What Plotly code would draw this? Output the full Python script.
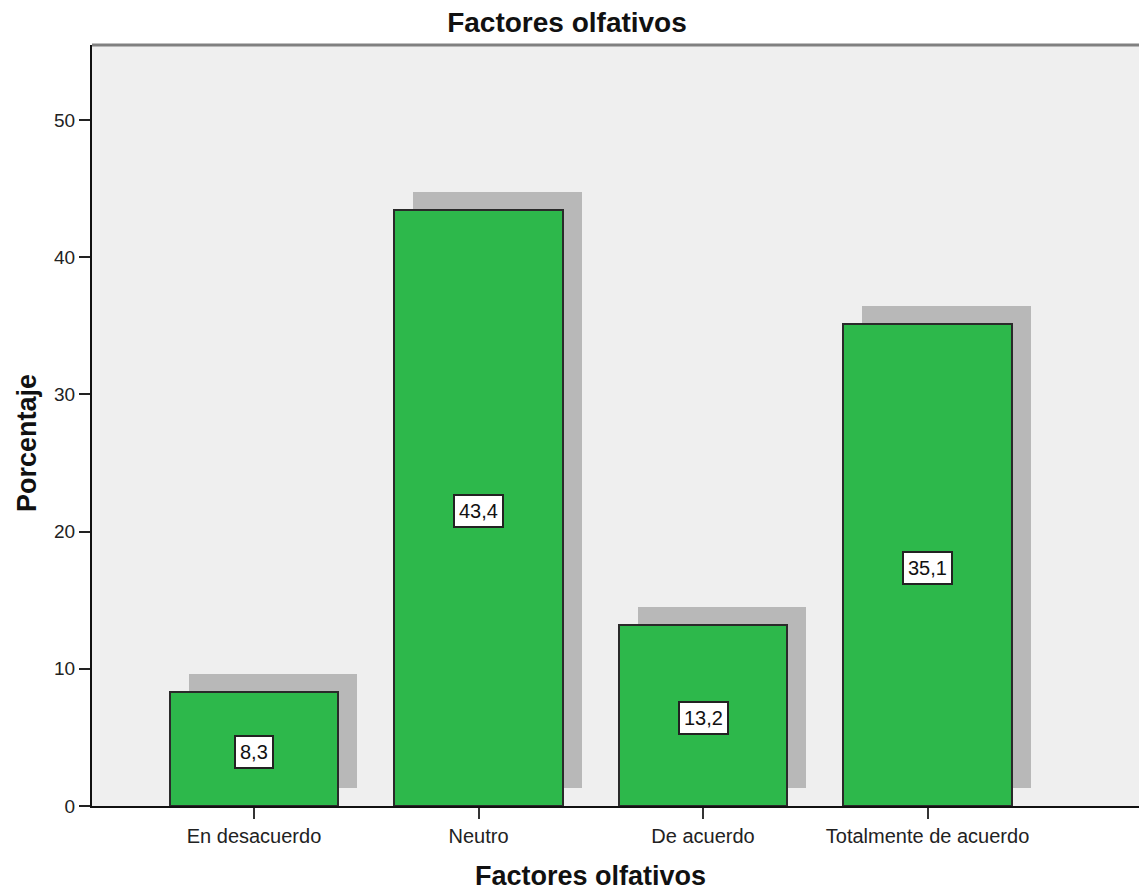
import plotly.graph_objects as go

# Survey responses: share of respondents per answer (percent)
categories = ["En desacuerdo", "Neutro", "De acuerdo", "Totalmente de acuerdo"]
percentages = [8.3, 43.4, 13.2, 35.1]
y_ticks = [0, 10, 20, 30, 40, 50]

GREEN = "#2db84b"
SHADOW = "#b8b8b8"
BG = "#efefef"
FONT = "Arial, Liberation Sans, sans-serif"

W, H = 1139, 893
M_L, M_R, M_T, M_B = 92, 0, 45, 87

# drop-shadow offset (in category units / value units)
SHIFT_X = 0.085
SHIFT_Y = 1.33
BAR_W = 0.75

xpos = list(range(len(categories)))

fig = go.Figure()

# shadow bars, offset up and right behind the main bars
fig.add_trace(go.Bar(
    x=[i + SHIFT_X for i in xpos],
    y=percentages,
    base=[SHIFT_Y] * len(percentages),
    width=BAR_W,
    marker=dict(color=SHADOW, line=dict(width=0)),
    hoverinfo="skip",
    showlegend=False,
))

# main bars
fig.add_trace(go.Bar(
    x=xpos,
    y=percentages,
    width=BAR_W,
    marker=dict(color=GREEN, line=dict(color="#2a2a2a", width=2)),
    showlegend=False,
))

# value labels in white boxes at the middle of each bar
for i, v in zip(xpos, percentages):
    fig.add_annotation(
        x=i, y=v / 2, xref="x", yref="y",
        text=f"{v:.1f}".replace(".", ","),
        showarrow=False,
        font=dict(family=FONT, size=20, color="#111111"),
        bgcolor="white",
        bordercolor="#222222",
        borderwidth=2,
        borderpad=4,
        yshift=-3,
    )

plot_w = W - M_L - M_R
plot_h = H - M_T - M_B

# axis titles
fig.add_annotation(
    x=(590 - M_L) / plot_w, y=-(876 - (H - M_B)) / plot_h,
    xref="paper", yref="paper",
    text="<b>Factores olfativos</b>", showarrow=False,
    font=dict(family=FONT, size=27, color="#111111"),
    xanchor="center", yanchor="middle",
)
fig.add_annotation(
    x=(27 - M_L) / plot_w, y=((H - M_B) - 443) / plot_h,
    xref="paper", yref="paper",
    text="<b>Porcentaje</b>", showarrow=False, textangle=-90,
    font=dict(family=FONT, size=27, color="#111111"),
    xanchor="center", yanchor="middle",
)

# grey frame line along the top of the plot area
fig.add_shape(
    type="line", xref="paper", yref="paper",
    x0=0, x1=1, y0=1, y1=1,
    line=dict(color="#808080", width=3),
)

fig.update_layout(
    width=W, height=H,
    margin=dict(l=M_L, r=M_R, t=M_T, b=M_B),
    paper_bgcolor="white",
    plot_bgcolor=BG,
    barmode="overlay",
    bargap=0,
    title=dict(
        text="<b>Factores olfativos</b>",
        x=567 / W, xref="container", xanchor="center",
        y=1 - 22 / H, yref="container", yanchor="middle",
        font=dict(family=FONT, size=28, color="#111111"),
    ),
    font=dict(family=FONT, color="#222222"),
)

fig.update_xaxes(
    range=[-0.7216, 3.942],
    tickmode="array", tickvals=xpos, ticktext=categories,
    ticks="outside", ticklen=11, tickwidth=2, tickcolor="#333333",
    tickfont=dict(family=FONT, size=20, color="#222222"),
    showline=True, linecolor="#111111", linewidth=2,
    showgrid=False, zeroline=False,
)
fig.update_yaxes(
    range=[0, 55.46],
    tickmode="array", tickvals=y_ticks,
    ticks="outside", ticklen=11, tickwidth=2, tickcolor="#222222",
    tickfont=dict(family=FONT, size=19, color="#222222"),
    showline=True, linecolor="#111111", linewidth=2,
    showgrid=False, zeroline=False,
)

fig.write_html("out.html")
